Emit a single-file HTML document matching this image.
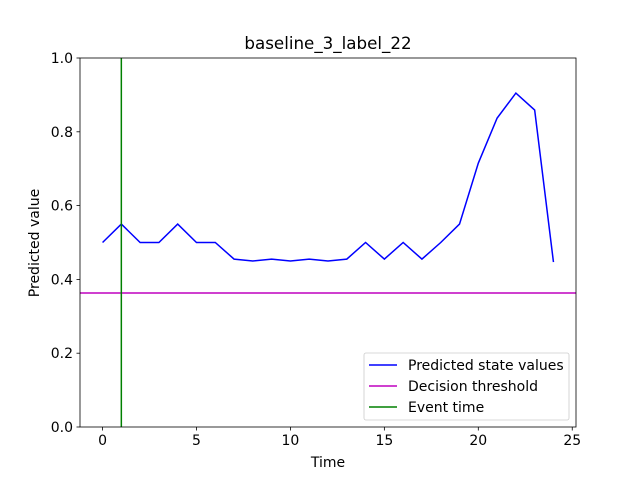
<!DOCTYPE html>
<html><head><meta charset="utf-8"><style>
body{margin:0;background:#fff;}
svg{display:block;font-family:"DejaVu Sans","Liberation Sans",sans-serif;}
</style></head><body>
<svg id="chart" width="640" height="480"></svg>
<script>
const times=[0,1,2,3,4,5,6,7,8,9,10,11,12,13,14,15,16,17,18,19,20,21,22,23,24];
const predicted=[0.5,0.55,0.5,0.5,0.55,0.5,0.5,0.455,0.45,0.455,0.45,0.455,0.45,0.455,0.5,0.455,0.5,0.455,0.5,0.55,0.715,0.837,0.905,0.859,0.447];
const threshold=[0.363];
const eventTime=[1];
const xTicks=[0,5,10,15,20,25];
const yTicks=[0.0,0.2,0.4,0.6,0.8,1.0];
const L=80,R=576,T=58,B=427,xmin=-1.2,xmax=25.2,ymin=0,ymax=1;
const sx=v=>L+(v-xmin)/(xmax-xmin)*(R-L);
const sy=v=>B-(v-ymin)/(ymax-ymin)*(B-T);
const svg=document.getElementById('chart');
const NS='http://www.w3.org/2000/svg';
function mk(tag,attrs,parent){const e=document.createElementNS(NS,tag);for(const k in attrs)e.setAttribute(k,attrs[k]);(parent||svg).appendChild(e);return e;}
const defs=mk('defs',{});const cp=mk('clipPath',{id:'c'},defs);mk('rect',{x:L,y:T,width:R-L,height:B-T},cp);
const pts=times.map((t,i)=>sx(t)+','+sy(predicted[i])).join(' ');
let e=mk('polyline',{points:pts,fill:'none',stroke:'#0000ff','stroke-width':1.5,'clip-path':'url(#c)'});


e=mk('line',{x1:L,x2:R,y1:sy(threshold[0]),y2:sy(threshold[0]),stroke:'#bf00bf','stroke-width':1.5});


e=mk('line',{x1:sx(eventTime[0]),x2:sx(eventTime[0]),y1:T,y2:B,stroke:'#008000','stroke-width':1.5});


e=mk('rect',{x:L,y:T,width:R-L,height:B-T,fill:'none',stroke:'#000','stroke-width':0.8});


xTicks.forEach(v=>{const x=sx(v);mk('line',{x1:x,x2:x,y1:B,y2:B+3.5,stroke:'#000','stroke-width':0.8});
const t=mk('text',{x:x,y:B+18,'text-anchor':'middle','font-size':14});t.textContent=v;

});
yTicks.forEach(v=>{const y=sy(v);mk('line',{x1:L-3.5,x2:L,y1:y,y2:y,stroke:'#000','stroke-width':0.8});
const t=mk('text',{x:L-7,y:y+5,'text-anchor':'end','font-size':14});t.textContent=v.toFixed(1);

});
let t=mk('text',{x:328,y:467,'text-anchor':'middle','font-size':14});t.textContent='Time';

t=mk('text',{x:39,y:243,'text-anchor':'middle','font-size':14,transform:'rotate(-90 39 243)'});t.textContent='Predicted value';

t=mk('text',{x:328,y:49,'text-anchor':'middle','font-size':16.7});t.textContent='baseline_3_label_22';

const g=mk('g',{});
mk('rect',{x:364,y:353,width:205,height:67,fill:'#fff',stroke:'#ccc','stroke-width':0.8,rx:2},g);
[['Predicted state values','#0000ff'],['Decision threshold','#bf00bf'],['Event time','#008000']].forEach((d,i)=>{
const y=365+i*21;mk('line',{x1:369,x2:397,y1:y,y2:y,stroke:d[1],'stroke-width':1.5},g);
const tx=mk('text',{x:408,y:y+5,'font-size':14},g);tx.textContent=d[0];
});
</script>
</body></html>
